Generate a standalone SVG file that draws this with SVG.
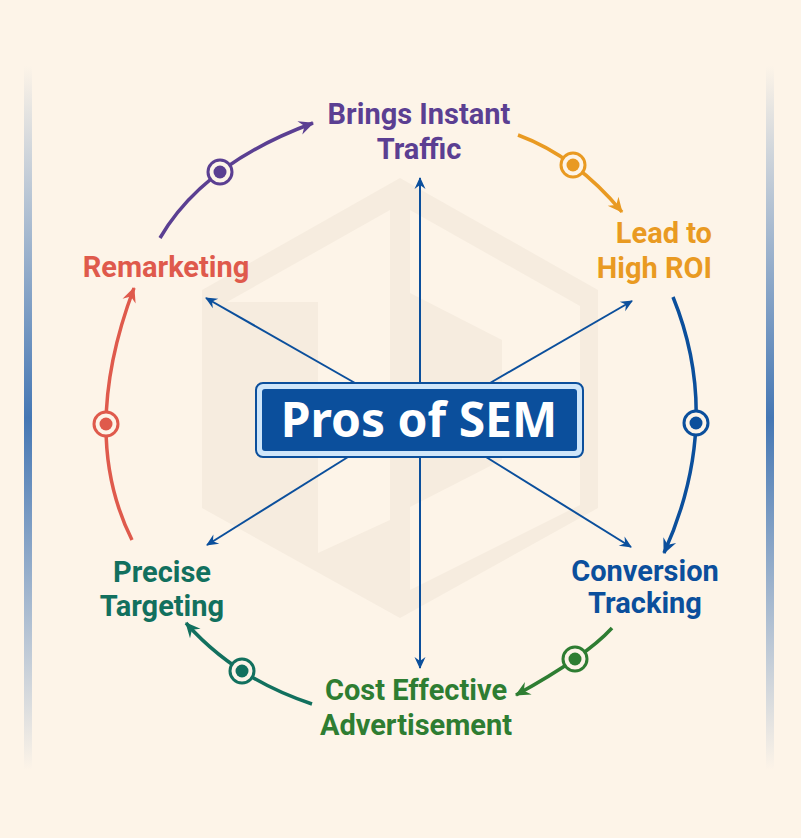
<svg xmlns="http://www.w3.org/2000/svg" width="801" height="838" viewBox="0 0 801 838">
<style>
.lbl{font-family:Roboto,"Liberation Sans",sans-serif;font-weight:700;font-size:29px;text-anchor:middle}
.title{font-family:"Noto Sans","Open Sans",sans-serif;font-weight:700;font-size:48px;fill:#ffffff;text-anchor:middle}
.spoke{stroke:#0b4f9c;stroke-width:2;fill:none;marker-end:url(#hb)}
.arc{fill:none;stroke-width:3.5}
.ring{fill:#fdf4e8;stroke-width:3}
.hx{fill:#f6ecdf}
.lt{fill:#fdf4e8}
</style>
<defs>
<linearGradient id="bar" x1="0" y1="0" x2="0" y2="1">
<stop offset="0" stop-color="#fdf4e8"/>
<stop offset="0.5" stop-color="#4577b4"/>
<stop offset="1" stop-color="#fdf4e8"/>
</linearGradient>
<marker id="hb" markerUnits="userSpaceOnUse" viewBox="-13 -6 14 12" markerWidth="14" markerHeight="12" refX="-1" refY="0" orient="auto"><path d="M0,0 L-12,-5.5 L-8,0 L-12,5.5 Z" fill="#0b4f9c"/></marker>
<marker id="hp" markerUnits="userSpaceOnUse" viewBox="-16 -8 17 16" markerWidth="17" markerHeight="16" refX="-1" refY="0" orient="auto"><path d="M0,0 L-15,-7 L-10,0 L-15,7 Z" fill="#5b3f92"/></marker>
<marker id="ho" markerUnits="userSpaceOnUse" viewBox="-16 -8 17 16" markerWidth="17" markerHeight="16" refX="-1" refY="0" orient="auto"><path d="M0,0 L-15,-7 L-10,0 L-15,7 Z" fill="#e99a22"/></marker>
<marker id="hbl" markerUnits="userSpaceOnUse" viewBox="-16 -8 17 16" markerWidth="17" markerHeight="16" refX="-1" refY="0" orient="auto"><path d="M0,0 L-15,-7 L-10,0 L-15,7 Z" fill="#0b4f9c"/></marker>
<marker id="hg" markerUnits="userSpaceOnUse" viewBox="-16 -8 17 16" markerWidth="17" markerHeight="16" refX="-1" refY="0" orient="auto"><path d="M0,0 L-15,-7 L-10,0 L-15,7 Z" fill="#2e7d32"/></marker>
<marker id="ht" markerUnits="userSpaceOnUse" viewBox="-16 -8 17 16" markerWidth="17" markerHeight="16" refX="-1" refY="0" orient="auto"><path d="M0,0 L-15,-7 L-10,0 L-15,7 Z" fill="#12705e"/></marker>
<marker id="hr" markerUnits="userSpaceOnUse" viewBox="-16 -8 17 16" markerWidth="17" markerHeight="16" refX="-1" refY="0" orient="auto"><path d="M0,0 L-15,-7 L-10,0 L-15,7 Z" fill="#df5a4c"/></marker>
</defs>
<rect x="0" y="0" width="801" height="838" fill="#fdf4e8"/>
<rect x="24" y="66" width="8" height="704" fill="url(#bar)"/>
<rect x="766" y="66" width="8" height="704" fill="url(#bar)"/>
<g id="watermark">
<polygon class="hx" points="400,178 598,290 598,508 400,618 202,508 202,290"/>
<polygon class="lt" points="390,210 390,520 318,553 318,302 227,302"/>
<polygon class="lt" points="410,210 580,306 580,505 410,590"/>
<polygon class="hx" points="410,293 502,340 502,460 410,507"/>
</g>
<g id="connectors">
<line class="spoke" x1="420" y1="383" x2="420" y2="178"/>
<line class="spoke" x1="420" y1="457" x2="420" y2="668"/>
<line class="spoke" x1="355" y1="383" x2="206" y2="298"/>
<line class="spoke" x1="490" y1="383" x2="632" y2="301"/>
<line class="spoke" x1="348" y1="457" x2="207" y2="545"/>
<line class="spoke" x1="486" y1="457" x2="631" y2="547"/>
<path class="arc" stroke="#5b3f92" marker-end="url(#hp)" d="M160,238 Q203.5,163.5 313,123"/>
<path class="arc" stroke="#e99a22" marker-end="url(#ho)" d="M518,135 Q576,156.5 622,212"/>
<path class="arc" stroke="#0b4f9c" marker-end="url(#hbl)" d="M673,297 Q723.5,421 664,553"/>
<path class="arc" stroke="#2e7d32" marker-end="url(#hg)" d="M612,628 Q586,656.5 516,695"/>
<path class="arc" stroke="#12705e" marker-end="url(#ht)" d="M312,704 Q235,678.5 186,623"/>
<path class="arc" stroke="#df5a4c" marker-end="url(#hr)" d="M132,540 Q79,434 134,288"/>
<circle class="ring" stroke="#5b3f92" cx="220" cy="172" r="12"/><circle cx="220" cy="172" r="6.5" fill="#5b3f92"/>
<circle class="ring" stroke="#e99a22" cx="573" cy="165" r="12"/><circle cx="573" cy="165" r="6.5" fill="#e99a22"/>
<circle class="ring" stroke="#0b4f9c" cx="696" cy="423" r="12"/><circle cx="696" cy="423" r="6.5" fill="#0b4f9c"/>
<circle class="ring" stroke="#2e7d32" cx="575" cy="659" r="12"/><circle cx="575" cy="659" r="6.5" fill="#2e7d32"/>
<circle class="ring" stroke="#12705e" cx="242" cy="671" r="12"/><circle cx="242" cy="671" r="6.5" fill="#12705e"/>
<circle class="ring" stroke="#df5a4c" cx="106" cy="424" r="12"/><circle cx="106" cy="424" r="6.5" fill="#df5a4c"/>
</g>
<g id="center">
<rect x="256" y="383" width="327" height="74" rx="7" fill="#cfe6fa" stroke="#0b4f9c" stroke-width="2"/>
<rect x="262" y="389" width="315" height="62" rx="3" fill="#0b4f9c"/>
<text class="title" x="419" y="437">Pros of SEM</text>
</g>
<g id="n-traffic"><text class="lbl" fill="#5b3f92"><tspan x="419" y="124">Brings Instant</tspan><tspan x="419" y="159">Traffic</tspan></text></g>
<g id="n-roi"><text class="lbl" fill="#e99a22" style="text-anchor:end"><tspan x="712" y="243">Lead to</tspan><tspan x="712" y="278">High ROI</tspan></text></g>
<g id="n-remarketing"><text class="lbl" fill="#df5a4c" x="166" y="277">Remarketing</text></g>
<g id="n-targeting"><text class="lbl" fill="#12705e"><tspan x="162" y="582">Precise</tspan><tspan x="162" y="616">Targeting</tspan></text></g>
<g id="n-conversion"><text class="lbl" fill="#0b4f9c"><tspan x="645" y="581">Conversion</tspan><tspan x="645" y="613">Tracking</tspan></text></g>
<g id="n-cost"><text class="lbl" fill="#2e7d32"><tspan x="416" y="700">Cost Effective</tspan><tspan x="416" y="735">Advertisement</tspan></text></g>
</svg>
